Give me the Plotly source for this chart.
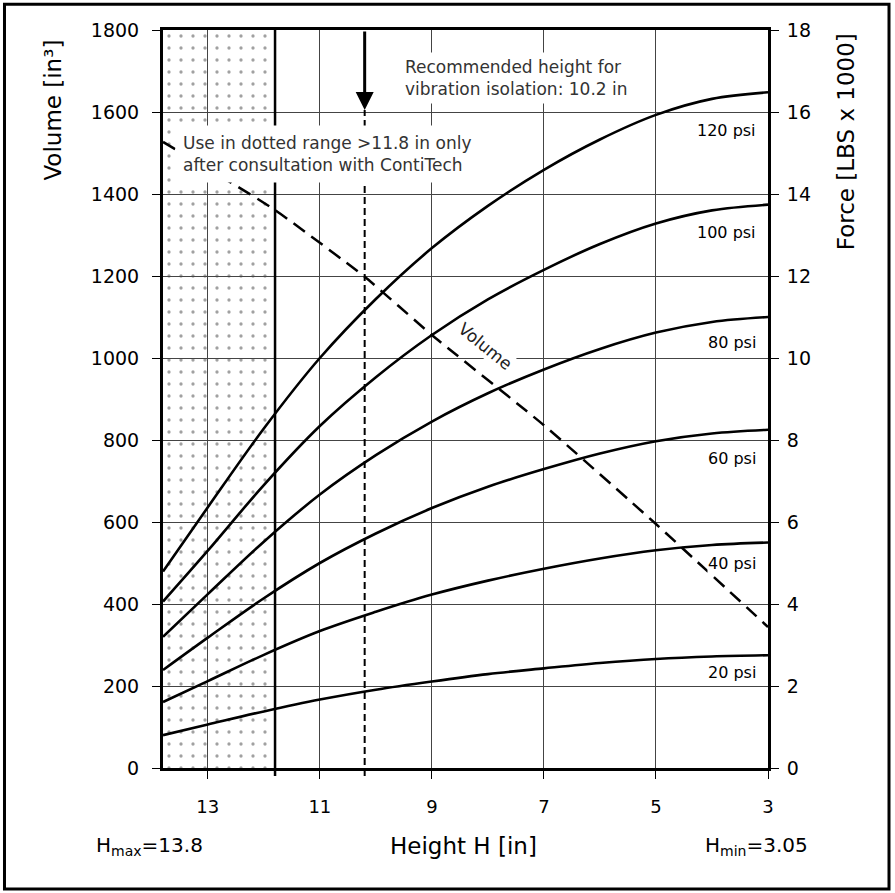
import plotly.graph_objects as go

# ---------------- data ----------------
heights = [13.8, 13.0, 12.0, 11.0, 10.0, 9.0, 8.0, 7.0, 6.0, 5.0, 4.0, 3.0]
force_20psi = [0.80, 1.06, 1.38, 1.67, 1.91, 2.11, 2.29, 2.43, 2.56, 2.66, 2.72, 2.75]
force_40psi = [1.61, 2.12, 2.76, 3.34, 3.81, 4.23, 4.57, 4.86, 5.11, 5.31, 5.44, 5.50]
force_60psi = [2.39, 3.18, 4.14, 5.00, 5.72, 6.34, 6.86, 7.29, 7.67, 7.97, 8.16, 8.25]
force_80psi = [3.20, 4.24, 5.52, 6.67, 7.63, 8.45, 9.14, 9.72, 10.22, 10.62, 10.88, 11.00]
force_100psi = [4.06, 5.30, 6.90, 8.34, 9.53, 10.56, 11.43, 12.15, 12.78, 13.28, 13.60, 13.74]
force_120psi = [4.79, 6.36, 8.28, 10.00, 11.44, 12.68, 13.71, 14.59, 15.33, 15.93, 16.32, 16.48]
force_series = [force_20psi, force_40psi, force_60psi, force_80psi, force_100psi, force_120psi]
pressure_labels = ["20 psi", "40 psi", "60 psi", "80 psi", "100 psi", "120 psi"]
label_force = [2.34, 5.00, 7.56, 10.39, 13.05, 15.56]

vol_heights = [13.8, 12.6, 11.8, 10.2, 9.0, 7.0, 5.0, 3.0]
volume = [1527, 1429, 1361, 1198, 1056, 836, 595, 344]

x_ticks = [13, 11, 9, 7, 5, 3]
vol_ticks = [0, 200, 400, 600, 800, 1000, 1200, 1400, 1600, 1800]
force_ticks = [0, 2, 4, 6, 8, 10, 12, 14, 16, 18]
h_max, h_min = 13.8, 3.05
x_range = [13.8, 3.0]
dotted_range = [13.8, 11.8]
recommended_height = 10.2
arrow_tip_volume = 1605

FONT = "DejaVu Sans"

fig = go.Figure()

# dotted region
fig.add_trace(go.Scatter(
    x=[dotted_range[0], dotted_range[1], dotted_range[1], dotted_range[0], dotted_range[0]],
    y=[0, 0, vol_ticks[-1], vol_ticks[-1], 0],
    mode="lines", line=dict(width=0), fill="toself",
    fillcolor="rgba(0,0,0,0)",
    fillpattern=dict(shape=".", size=12, solidity=0.06, fgcolor="#444444",
                     bgcolor="rgba(0,0,0,0)"),
    hoverinfo="skip", showlegend=False))

# volume dashed line
fig.add_trace(go.Scatter(
    x=vol_heights, y=volume, mode="lines",
    line=dict(color="black", width=2.5, dash="14px,8px", shape="spline", smoothing=0.5),
    showlegend=False, yaxis="y"))

# force curves
for ser in force_series:
    fig.add_trace(go.Scatter(
        x=heights, y=ser, mode="lines",
        line=dict(color="black", width=2.6, shape="spline", smoothing=1.0),
        showlegend=False, yaxis="y2"))

ann = []
for lab, yv in zip(pressure_labels, label_force):
    ann.append(dict(x=3.2, y=yv, xref="x", yref="y2", text=lab, showarrow=False,
                    xanchor="right", yanchor="middle", bgcolor="white", borderpad=0,
                    font=dict(family=FONT, size=16, color="black")))

# Volume label
ann.append(dict(x=8.05, y=1030, xref="x", yref="y", text="Volume", showarrow=False,
                textangle=39, bgcolor="white", borderpad=0,
                font=dict(family=FONT, size=17, color="#222")))

# arrow
ann.append(dict(x=recommended_height, y=arrow_tip_volume, xref="x", yref="y",
                ax=recommended_height, ay=vol_ticks[-1], axref="x", ayref="y",
                showarrow=True, arrowhead=2, arrowsize=1.2, arrowwidth=3,
                arrowcolor="black", text=""))

# text boxes
ann.append(dict(x=9.57, y=1683, xref="x", yref="y",
                text="Recommended height for<br>vibration isolation: 10.2 in",
                showarrow=False, xanchor="left", yanchor="middle", align="left",
                bgcolor="white", borderpad=4,
                font=dict(family=FONT, size=17, color="#333")))
ann.append(dict(x=13.59, y=1497, xref="x", yref="y",
                text="Use in dotted range &gt;11.8 in only<br>after consultation with ContiTech",
                showarrow=False, xanchor="left", yanchor="middle", align="left",
                bgcolor="white", borderpad=7,
                font=dict(family=FONT, size=17, color="#333")))

# axis titles and bottom labels
ann.append(dict(x=-0.182, y=0.892, xref="paper", yref="paper", text="Volume [in³]",
                textangle=-90, showarrow=False, xanchor="center", yanchor="middle",
                font=dict(family=FONT, size=23, color="black")))
ann.append(dict(x=1.129, y=0.848, xref="paper", yref="paper", text="Force [LBS x 1000]",
                textangle=-90, showarrow=False, xanchor="center", yanchor="middle",
                font=dict(family=FONT, size=23, color="black")))
ann.append(dict(x=0.497, y=-0.106, xref="paper", yref="paper", text="Height H [in]",
                showarrow=False, xanchor="center", yanchor="middle",
                font=dict(family=FONT, size=23, color="black")))
ann.append(dict(x=-0.114, y=-0.106, xref="paper", yref="paper",
                text=f"H<sub>max</sub>={h_max}", showarrow=False,
                xanchor="left", yanchor="middle",
                font=dict(family=FONT, size=20, color="black")))
ann.append(dict(x=0.893, y=-0.106, xref="paper", yref="paper",
                text=f"H<sub>min</sub>={h_min}", showarrow=False,
                xanchor="left", yanchor="middle",
                font=dict(family=FONT, size=20, color="black")))

shapes = [
    # 11.8 boundary
    dict(type="line", xref="x", yref="paper", x0=dotted_range[1], x1=dotted_range[1],
         y0=-0.011, y1=1, line=dict(color="black", width=2.5)),
    # recommended height dashed line
    dict(type="line", xref="x", yref="paper", x0=recommended_height, x1=recommended_height,
         y0=-0.011, y1=arrow_tip_volume / vol_ticks[-1],
         line=dict(color="black", width=2, dash="7px,4px")),
    # outer border
    dict(type="rect", xref="paper", yref="paper", x0=-0.262, x1=1.2, y0=-0.164, y1=1.035,
         line=dict(color="black", width=3), fillcolor="rgba(0,0,0,0)"),
]

fig.update_layout(
    width=895, height=893,
    margin=dict(l=163, r=127, t=30, b=125, pad=0),
    paper_bgcolor="white", plot_bgcolor="white",
    showlegend=False,
    font=dict(family=FONT, size=18, color="black"),
    annotations=ann, shapes=shapes,
    xaxis=dict(range=x_range, tickvals=x_ticks, ticktext=[str(t) for t in x_ticks],
               showgrid=True, gridcolor="#444", gridwidth=1,
               showline=True, linecolor="black", linewidth=3, mirror=True,
               ticks="outside", ticklen=8, tickwidth=1, tickcolor="black",
               ticklabelstandoff=12,
               tickfont=dict(family=FONT, size=18), zeroline=False),
    yaxis=dict(range=[vol_ticks[0], vol_ticks[-1]], tickvals=vol_ticks,
               showgrid=True, gridcolor="#444", gridwidth=1,
               showline=True, linecolor="black", linewidth=3, mirror=True,
               ticks="outside", ticklen=8, tickwidth=1, tickcolor="black",
               ticklabelstandoff=9,
               tickfont=dict(family=FONT, size=19), zeroline=False),
    yaxis2=dict(range=[force_ticks[0], force_ticks[-1]], tickvals=force_ticks,
                overlaying="y", side="right", showgrid=False,
                showline=True, linecolor="black", linewidth=3,
                ticks="outside", ticklen=8, tickwidth=1, tickcolor="black",
                ticklabelstandoff=4,
                tickfont=dict(family=FONT, size=19), zeroline=False),
)

fig.write_html("out.html", config={"displayModeBar": False},
               post_script="document.body.style.margin='0px';")
